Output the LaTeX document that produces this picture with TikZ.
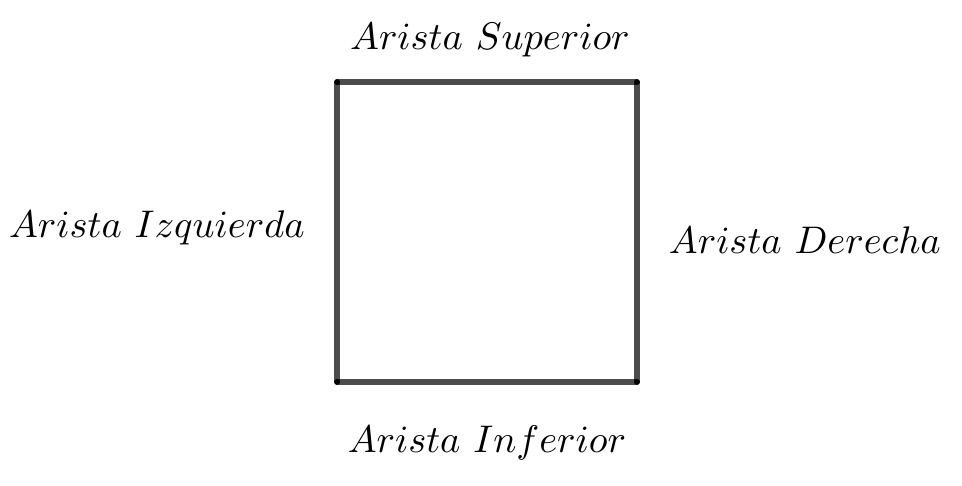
\documentclass[tikz,border=0pt]{standalone}
\usepackage{amsmath, amssymb}
\usepackage{xcolor}
\usepackage{tikz}

\begin{document}
\begin{tikzpicture}[
    font=\fontsize{11.2}{13}\selectfont,
    edge/.style={line width=1.5pt, color=black, opacity=0.7},
    corner/.style={circle, fill=black, inner sep=0.6pt}
]

\useasboundingbox (-3.37,-1.04) rectangle (6.25,3.82);

% Corners of the square
\coordinate (a) at (0,0);
\coordinate (b) at (3,0);
\coordinate (c) at (3,3);
\coordinate (d) at (0,3);

% Edges
\draw[edge] (a) -- (b);
\draw[edge] (b) -- (c);
\draw[edge] (c) -- (d);
\draw[edge] (d) -- (a);

\node[corner] (ca) at (a) {};
\node[corner] (cb) at (b) {};
\node[corner] (cc) at (c) {};
\node[corner] (cd) at (d) {};

% Labels
\node (sup) at (1.53, 3.42) {$Arista\ Superior$};
\node (inf) at (1.5, -0.61) {$Arista\ Inferior$};
\node (izq) at (-1.8, 1.54) {$Arista\ Izquierda$};
\node (der) at (4.68, 1.42) {$Arista\ Derecha$};

\end{tikzpicture}
\end{document}
